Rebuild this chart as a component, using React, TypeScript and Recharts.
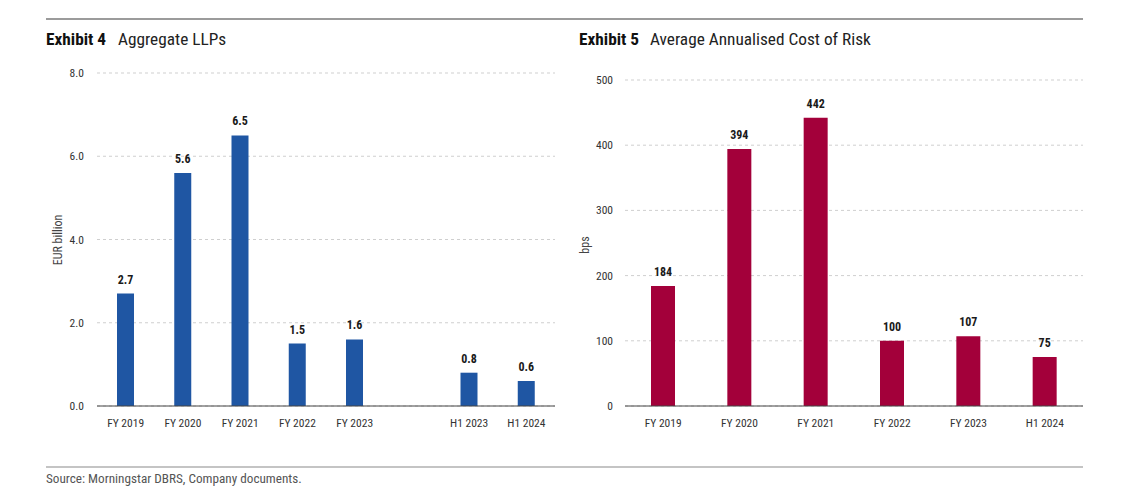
import React from 'react';
import { BarChart, Bar, XAxis, YAxis, CartesianGrid, LabelList } from 'recharts';

const FONT = "'Liberation Sans Narrow', 'Roboto Condensed', 'DejaVu Sans Condensed', sans-serif";

const llpCategories = ['FY 2019', 'FY 2020', 'FY 2021', 'FY 2022', 'FY 2023', '', 'H1 2023', 'H1 2024'];
const llpValues: (number | null)[] = [2.7, 5.6, 6.5, 1.5, 1.6, null, 0.8, 0.6];
const llpTicks = [0, 2, 4, 6, 8];

const corCategories = ['FY 2019', 'FY 2020', 'FY 2021', 'FY 2022', 'FY 2023', 'H1 2024'];
const corValues = [184, 394, 442, 100, 107, 75];
const corTicks = [0, 100, 200, 300, 400, 500];

const llpData = llpCategories.map((c, i) => ({ cat: c, value: llpValues[i] }));
const corData = corCategories.map((c, i) => ({ cat: c, value: corValues[i] }));

const BLUE = '#1F56A3';
const CRIMSON = '#A3003A';

const makeLabel = (fmt: (v: number) => string) => (props: any) => {
  const { x, y, width, value } = props;
  if (value === null || value === undefined) return null;
  return (
    <text x={x + width / 2} y={y - 10} textAnchor="middle" fontFamily={FONT} fontWeight="bold" fontSize={12} fill="#1a1a1a">
      {fmt(value)}
    </text>
  );
};

export default function App() {
  const tickStyle = { fontFamily: FONT, fontSize: 11.5, fill: '#333' };
  return (
    <div style={{ position: 'absolute', left: 0, top: 0, width: 1144, height: 498, background: '#fff' }}>
      <div style={{ position: 'absolute', left: 0, top: 0 }}>
        <BarChart width={580} height={440} data={llpData} margin={{ top: 73, right: 25, bottom: 4, left: 47 }}>
          <CartesianGrid vertical={false} stroke="#cfcfcf" strokeDasharray="3 3" />
          <XAxis dataKey="cat" axisLine={{ stroke: '#444' }} tickLine={false} tickSize={0} tickMargin={12.5} height={30} tick={tickStyle} interval={0} />
          <YAxis domain={[0, 8]} ticks={llpTicks} width={50} axisLine={false} tickLine={false} tickSize={0} tickMargin={13}
            tick={tickStyle} tickFormatter={(v: number) => v.toFixed(1)} />
          <Bar dataKey="value" fill={BLUE} barSize={17} isAnimationActive={false}>
            <LabelList dataKey="value" content={makeLabel((v) => v.toFixed(1))} />
          </Bar>
        </BarChart>
      </div>
      <div style={{ position: 'absolute', left: 560, top: 0 }}>
        <BarChart width={560} height={440} data={corData} margin={{ top: 80, right: 37, bottom: 4, left: 15 }}>
          <CartesianGrid vertical={false} stroke="#cfcfcf" strokeDasharray="3 3" />
          <XAxis dataKey="cat" axisLine={{ stroke: '#444' }} tickLine={false} tickSize={0} tickMargin={12.5} height={30} tick={tickStyle} interval={0} />
          <YAxis domain={[0, 500]} ticks={corTicks} width={50} axisLine={false} tickLine={false} tickSize={0} tickMargin={12} tick={tickStyle} />
          <Bar dataKey="value" fill={CRIMSON} barSize={24} isAnimationActive={false}>
            <LabelList dataKey="value" content={makeLabel((v) => String(v))} />
          </Bar>
        </BarChart>
      </div>
      <svg width={1144} height={498} style={{ position: 'absolute', left: 0, top: 0, pointerEvents: 'none' }}>
        <line x1={46} x2={1083} y1={19} y2={19} stroke="#7a7a7a" strokeWidth={1.5} />
        <line x1={46} x2={1083} y1={467} y2={467} stroke="#b0b0b0" strokeWidth={1.5} />
        <text x={46} y={45} fontFamily={FONT} fontSize={17.3} fontWeight="bold" fill="#111">Exhibit 4</text>
        <text x={118} y={45} fontFamily={FONT} fontSize={17.3} fill="#222">Aggregate LLPs</text>
        <text x={579} y={45} fontFamily={FONT} fontSize={17.3} fontWeight="bold" fill="#111">Exhibit 5</text>
        <text x={650} y={45} fontFamily={FONT} fontSize={17.3} fill="#222">Average Annualised Cost of Risk</text>
        <text x={62} y={240} transform="rotate(-90 62 240)" textAnchor="middle" fontFamily={FONT} fontSize={12} fill="#444">EUR billion</text>
        <text x={589} y={245} transform="rotate(-90 589 245)" textAnchor="middle" fontFamily={FONT} fontSize={12} fill="#444">bps</text>
        <text x={46} y={483} fontFamily={FONT} fontSize={13.2} fill="#555">Source: Morningstar DBRS, Company documents.</text>
      </svg>
    </div>
  );
}
